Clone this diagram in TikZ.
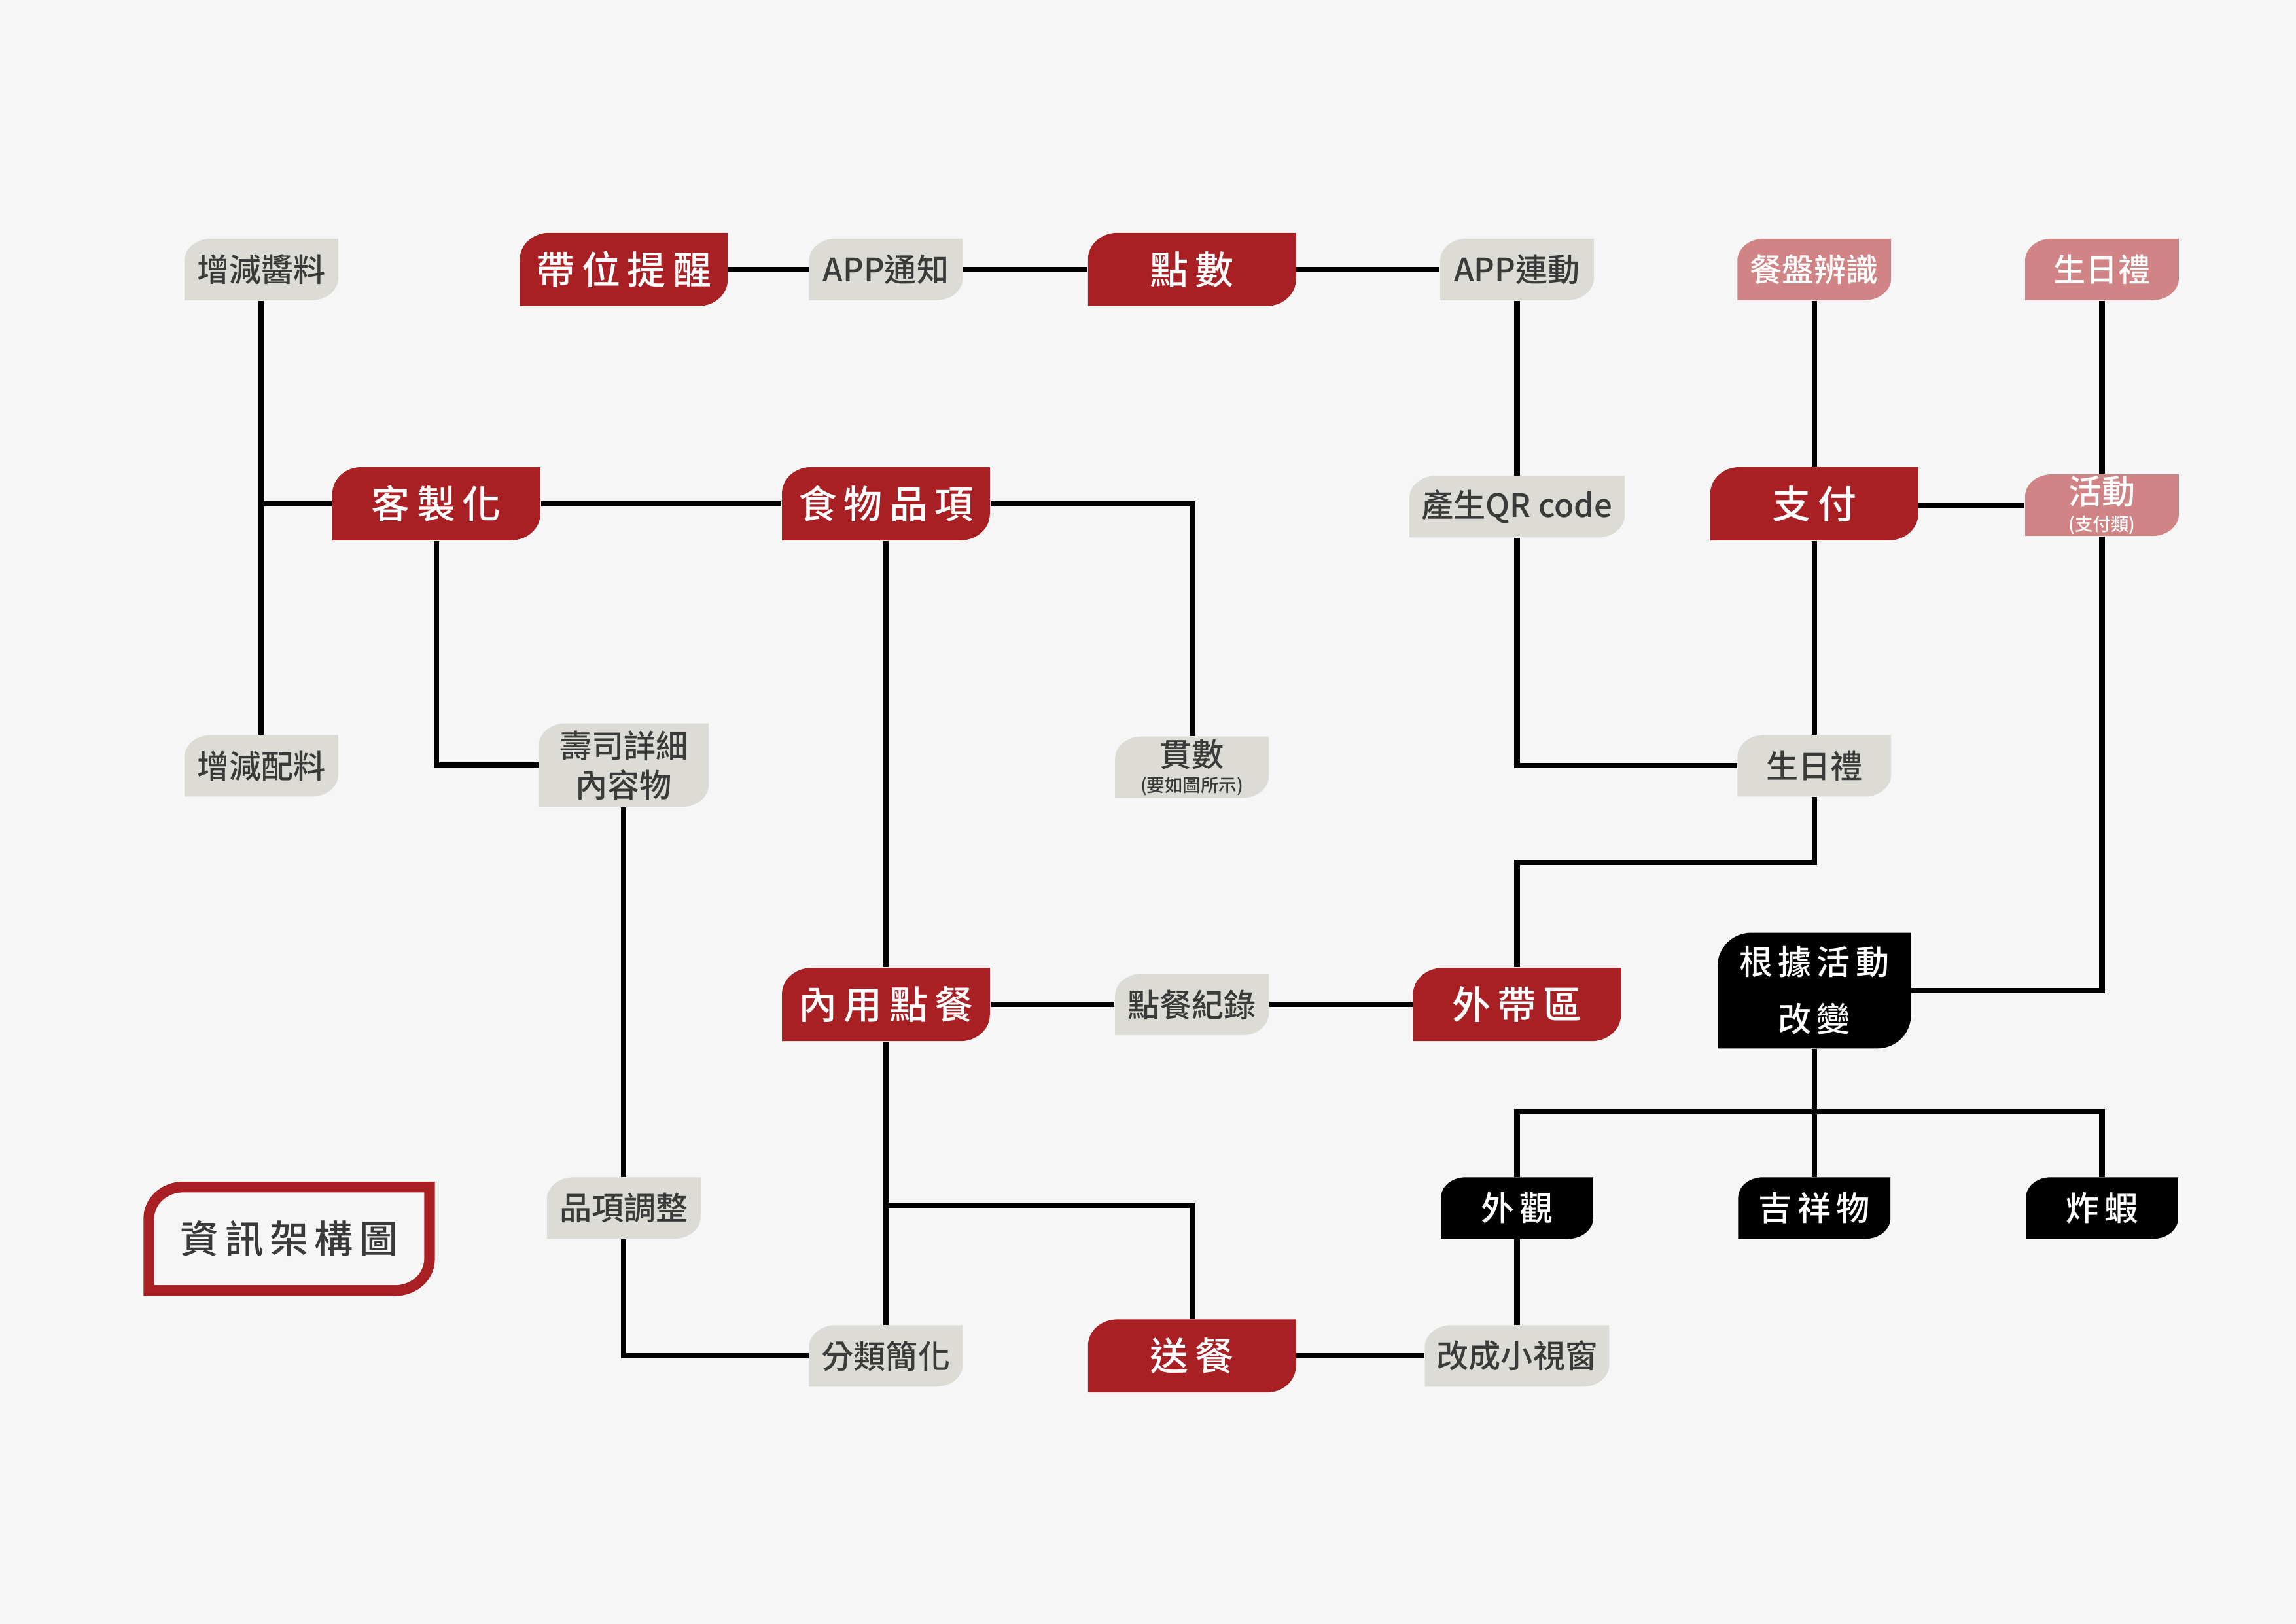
\documentclass[tikz,border=0pt]{standalone}
\usepackage{fontspec}
\setmainfont{Noto Sans CJK TC Medium}
\usetikzlibrary{calc}
\definecolor{bg}{HTML}{F6F6F6}
\definecolor{cred}{HTML}{A81F24}
\definecolor{cgray}{HTML}{DCDBD6}
\definecolor{cpink}{HTML}{D08486}
\definecolor{ctext}{HTML}{3A3A3A}
\newcommand\gp{\hspace{0.18em}}
\newcommand\gq{\hspace{0.16em}}
\begin{document}
\begin{tikzpicture}[x=0.02cm,y=-0.02cm,
  leafbg/.style n args={3}{fill=bg, draw=none, path picture={
    \fill[#1] (path picture bounding box.south west)
      -- ([yshift=-#3]path picture bounding box.north west)
      arc[start angle=180,end angle=90,x radius=#2,y radius=#3]
      -- (path picture bounding box.north east)
      -- ([yshift=#3]path picture bounding box.south east)
      arc[start angle=0,end angle=-90,x radius=#2,y radius=#3] -- cycle;}},
  graybox/.style={leafbg={cgray}{0.36cm}{0.3cm}, inner sep=0pt, minimum width=2.1cm, minimum height=0.84cm,
    text=ctext, align=center, font=\fontsize{12.5}{15}\selectfont},
  pinkbox/.style={graybox, leafbg={cpink}{0.36cm}{0.3cm}, text=white},
  redbox/.style={leafbg={cred}{0.4cm}{0.36cm}, inner sep=0pt, minimum width=2.84cm, minimum height=1cm,
    text=white, align=center, font=\fontsize{15}{18}\selectfont},
  blackbox/.style={leafbg={black}{0.34cm}{0.28cm}, inner sep=0pt, minimum width=2.08cm, minimum height=0.84cm,
    text=white, align=center, font=\fontsize{13}{16}\selectfont},
  conn/.style={line width=0.072cm, draw=black},
]
\fill[bg] (0,0) rectangle (1568,1109);
\useasboundingbox (0,0) rectangle (1568,1109);

% row 1
\node[graybox] (jiang) at (178.5,184) {增減醬料};
\node[redbox] (daiwei) at (426,184) {帶\gp{}位\gp{}提\gp{}醒};
\node[graybox] (appnotify) at (605,184) {APP通知};
\node[redbox] (dianshu) at (814,184) {點\gp{}數};
\node[graybox] (applink) at (1036,184) {APP連動};
\node[pinkbox] (canpan) at (1239,184) {餐盤辨識};
\node[pinkbox] (bdaytop) at (1435.5,184) {生日禮};
% row 2
\node[redbox] (kezhi) at (298,344) {客\gp{}製\gp{}化};
\node[redbox] (food) at (605,344) {食\gp{}物\gp{}品\gp{}項};
\node[graybox, minimum width=2.94cm] (qr) at (1036,346) {產生QR code};
\node[redbox] (pay) at (1239,344) {支\gp{}付};
\node[pinkbox] (event) at (1435.5,345) {{\fontsize{13}{13}\selectfont 活動}\\[-4.5pt]{\fontsize{7}{8}\selectfont (支付類)}};
% row 3
\node[graybox] (peiliao) at (178.5,523) {增減配料};
\node[graybox, minimum width=2.32cm, minimum height=1.14cm, font=\fontsize{12.5}{15.3}\selectfont] (sushi) at (426,522.5) {壽司詳細\\內容物};
\node[graybox] (guan) at (814,524) {貫數\\[-5pt]{\fontsize{7}{8}\selectfont (要如圖所示)}};
\node[graybox] (bdaymid) at (1239,523) {生日禮};
% row 4
\node[redbox] (neiyong) at (605,686) {內\gp{}用\gp{}點\gp{}餐};
\node[graybox] (jilu) at (814,686) {點餐紀錄};
\node[redbox] (waidai) at (1036,686) {外\gp{}帶\gp{}區};
\node[leafbg={black}{0.46cm}{0.45cm}, inner sep=0pt, minimum width=2.64cm, minimum height=1.58cm,
  text=white, align=center, font=\fontsize{13}{22}\selectfont] (genju) at (1239,676.5) {根\gq{}據\gq{}活\gq{}動\\改\gq{}變};
% row 5
\node[blackbox] (waiguan) at (1036,825) {外\gq{}觀};
\node[blackbox] (jixiang) at (1239,825) {吉\gq{}祥\gq{}物};
\node[blackbox] (zhaxia) at (1435.5,825) {炸\gq{}蝦};
\node[graybox] (pinxiang) at (426,825) {品項調整};
\node[fill=bg, inner sep=0pt, minimum width=3.98cm, minimum height=1.56cm, text=ctext,
  font=\fontsize{15}{18}\selectfont,
  path picture={
    \fill[cred] (path picture bounding box.south west)
      -- ([yshift=-0.5cm]path picture bounding box.north west)
      arc[start angle=180,end angle=90,x radius=0.54cm,y radius=0.5cm]
      -- (path picture bounding box.north east)
      -- ([yshift=0.5cm]path picture bounding box.south east)
      arc[start angle=0,end angle=-90,x radius=0.54cm,y radius=0.5cm] -- cycle;
    \fill[bg] ([xshift=0.146cm,yshift=0.146cm]path picture bounding box.south west)
      -- ([xshift=0.146cm,yshift=-0.506cm]path picture bounding box.north west)
      arc[start angle=180,end angle=90,x radius=0.4cm,y radius=0.36cm]
      -- ([xshift=-0.146cm,yshift=-0.146cm]path picture bounding box.north east)
      -- ([xshift=-0.146cm,yshift=0.506cm]path picture bounding box.south east)
      arc[start angle=0,end angle=-90,x radius=0.4cm,y radius=0.36cm] -- cycle;}]
  (title) at (197.5,846) {資\gq{}訊\gq{}架\gq{}構\gq{}圖};
% row 6
\node[graybox] (fenlei) at (605,926) {分類簡化};
\node[redbox] (songcan) at (814,926) {送\gp{}餐};
\node[graybox, minimum width=2.52cm] (xiao) at (1036,926) {改成小視窗};

\coordinate (brsong) at (605,823);
\coordinate (brout) at (1239,589);
\coordinate (brlook) at (1239,759);

% connectors
\draw[conn] (jiang) -- (peiliao);
\draw[conn] (kezhi.west) -- (kezhi.west -| jiang.south);
\draw[conn] (daiwei) -- (appnotify);
\draw[conn] (appnotify) -- (dianshu);
\draw[conn] (dianshu) -- (applink);
\draw[conn] (applink) -- (qr);
\draw[conn] (qr.south) |- (bdaymid.west);
\draw[conn] (canpan) -- (pay);
\draw[conn] (pay) -- (bdaymid);
\draw[conn] (bdaymid.south) -- (brout) -| (waidai.north);
\draw[conn] (pay.east |- event.west) -- (event.west);
\draw[conn] (bdaytop) -- (event);
\draw[conn] (event.south) |- (genju.east);
\draw[conn] (genju) -- (jixiang);
\draw[conn] (waiguan.north) |- (brlook) -| (zhaxia.north);
\draw[conn] (kezhi) -- (food);
\draw[conn] (kezhi.south) |- (sushi.west);
\draw[conn] (food.east) -| (guan.north);
\draw[conn] (food) -- (neiyong);
\draw[conn] (neiyong) -- (fenlei);
\draw[conn] (brsong) -| (songcan.north);
\draw[conn] (neiyong) -- (jilu);
\draw[conn] (jilu) -- (waidai);
\draw[conn] (sushi) -- (pinxiang);
\draw[conn] (pinxiang.south) |- (fenlei.west);
\draw[conn] (songcan) -- (xiao);
\draw[conn] (waiguan) -- (xiao);
\end{tikzpicture}
\end{document}
